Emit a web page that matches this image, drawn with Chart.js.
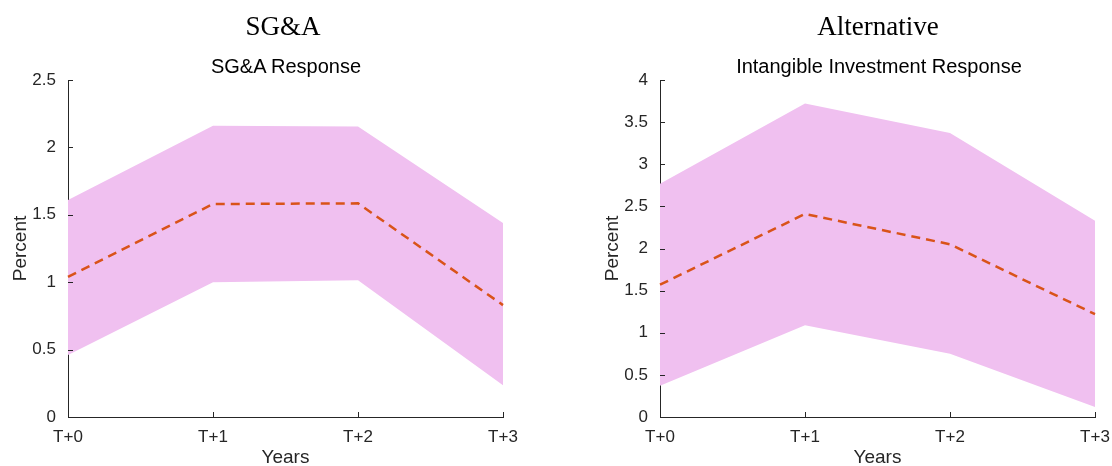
<!DOCTYPE html>
<html>
<head>
<meta charset="utf-8">
<script src="https://cdn.jsdelivr.net/npm/chart.js@4.4.1/dist/chart.umd.min.js"></script>
<style>
  body { margin: 0; background: #fff; width: 1112px; height: 466px; overflow: hidden; position: relative; }
  .panel { position: absolute; top: 0; width: 556px; height: 466px; }
  .supt { position: absolute; top: 11px; font: 27px "Liberation Serif", "DejaVu Serif", serif; color: #000; transform: translateX(-50%); white-space: nowrap; }
  .subt { position: absolute; top: 55px; font: 20px "Liberation Sans", Arial, sans-serif; color: #000; transform: translateX(-50%); white-space: nowrap; }
</style>
</head>
<body>
<div class="panel" style="left:0"><canvas id="left"></canvas></div>
<div class="panel" style="left:556px"><canvas id="right"></canvas></div>
<div class="supt" style="left:283px">SG&amp;A</div>
<div class="subt" style="left:286px">SG&amp;A Response</div>
<div class="supt" style="left:878px">Alternative</div>
<div class="subt" style="left:879px">Intangible Investment Response</div>
<script>
// horizon labels
const years = ['T+0', 'T+1', 'T+2', 'T+3'];

// SG&A response (percent)
const sgaMean = [1.04, 1.58, 1.585, 0.83];
const sgaUpper = [1.61, 2.16, 2.155, 1.44];
const sgaLower = [0.46, 1.0, 1.015, 0.235];

// Intangible investment response (percent)
const intMean = [1.57, 2.41, 2.05, 1.22];
const intUpper = [2.77, 3.72, 3.37, 2.33];
const intLower = [0.37, 1.09, 0.75, 0.12];

const bandColor = 'rgb(240,192,240)';
const lineColor = '#d95319';
const axisColor = '#262626';
const sans = '"Liberation Sans", Arial, sans-serif';

// MATLAB style ticks pointing into the plot
const innerTicks = {
    id: 'innerTicks',
    afterDraw: (chart) => {
        const ctx = chart.ctx;
        const { x, y } = chart.scales;
        const area = chart.chartArea;
        ctx.save();
        ctx.strokeStyle = axisColor;
        ctx.lineWidth = 1;
        ctx.beginPath();
        y.ticks.forEach(t => {
            const py = Math.round(y.getPixelForValue(t.value)) + 0.5;
            ctx.moveTo(area.left, py);
            ctx.lineTo(area.left + 5, py);
        });
        x.ticks.forEach((t, i) => {
            const px = Math.round(x.getPixelForValue(i)) + 0.5;
            ctx.moveTo(px, area.bottom);
            ctx.lineTo(px, area.bottom - 5);
        });
        ctx.stroke();
        ctx.restore();
    }
};

function renderPanel({ targetId, mean, upper, lower, yMax, leftPad, rightPad, yAxisWidth }) {
    const ctx = document.getElementById(targetId).getContext('2d');
    new Chart(ctx, {
        type: 'line',
        data: {
            labels: years,
            datasets: [
                {
                    data: mean,
                    borderColor: lineColor,
                    borderWidth: 2.5,
                    borderDash: [9, 6],
                    pointRadius: 0,
                    fill: false,
                    tension: 0,
                    order: 0
                },
                {
                    data: upper,
                    borderWidth: 0,
                    borderColor: 'rgba(0,0,0,0)',
                    backgroundColor: bandColor,
                    pointRadius: 0,
                    fill: '+1',
                    tension: 0,
                    order: 1
                },
                {
                    data: lower,
                    borderWidth: 0,
                    borderColor: 'rgba(0,0,0,0)',
                    pointRadius: 0,
                    fill: false,
                    tension: 0,
                    order: 2
                }
            ]
        },
        options: {
            responsive: false,
            animation: false,
            events: [],
            layout: { padding: { top: 80, left: leftPad, right: rightPad, bottom: 0 } },
            plugins: {
                legend: { display: false },
                tooltip: { enabled: false }
            },
            scales: {
                x: {
                    offset: false,
                    grid: { display: false },
                    border: { display: true, color: axisColor, width: 1 },
                    ticks: {
                        color: axisColor,
                        padding: 2,
                        maxRotation: 0,
                        font: { family: sans, size: 17 }
                    },
                    title: {
                        display: true,
                        text: 'Years',
                        color: axisColor,
                        padding: { top: 0, bottom: 0 },
                        font: { family: sans, size: 19, lineHeight: 0.85 }
                    },
                    afterFit: (s) => { s.height = 49; }
                },
                y: {
                    min: 0,
                    max: yMax,
                    grid: { display: false },
                    border: { display: true, color: axisColor, width: 1 },
                    ticks: {
                        stepSize: 0.5,
                        color: axisColor,
                        padding: 4,
                        font: { family: sans, size: 17 },
                        callback: (v) => String(Math.round(v * 10) / 10)
                    },
                    title: {
                        display: true,
                        text: 'Percent',
                        color: axisColor,
                        padding: { top: 0, bottom: 0 },
                        font: { family: sans, size: 19 }
                    },
                    afterFit: (s) => { s.width = yAxisWidth; }
                }
            }
        },
        plugins: [innerTicks]
    });
}

document.getElementById('left').width = 556;
document.getElementById('left').height = 466;
document.getElementById('right').width = 556;
document.getElementById('right').height = 466;

renderPanel({ targetId: 'left', mean: sgaMean, upper: sgaUpper, lower: sgaLower, yMax: 2.5, leftPad: 9, rightPad: 53, yAxisWidth: 59 });
renderPanel({ targetId: 'right', mean: intMean, upper: intUpper, lower: intLower, yMax: 4, leftPad: 45, rightPad: 17, yAxisWidth: 59 });
</script>
</body>
</html>
